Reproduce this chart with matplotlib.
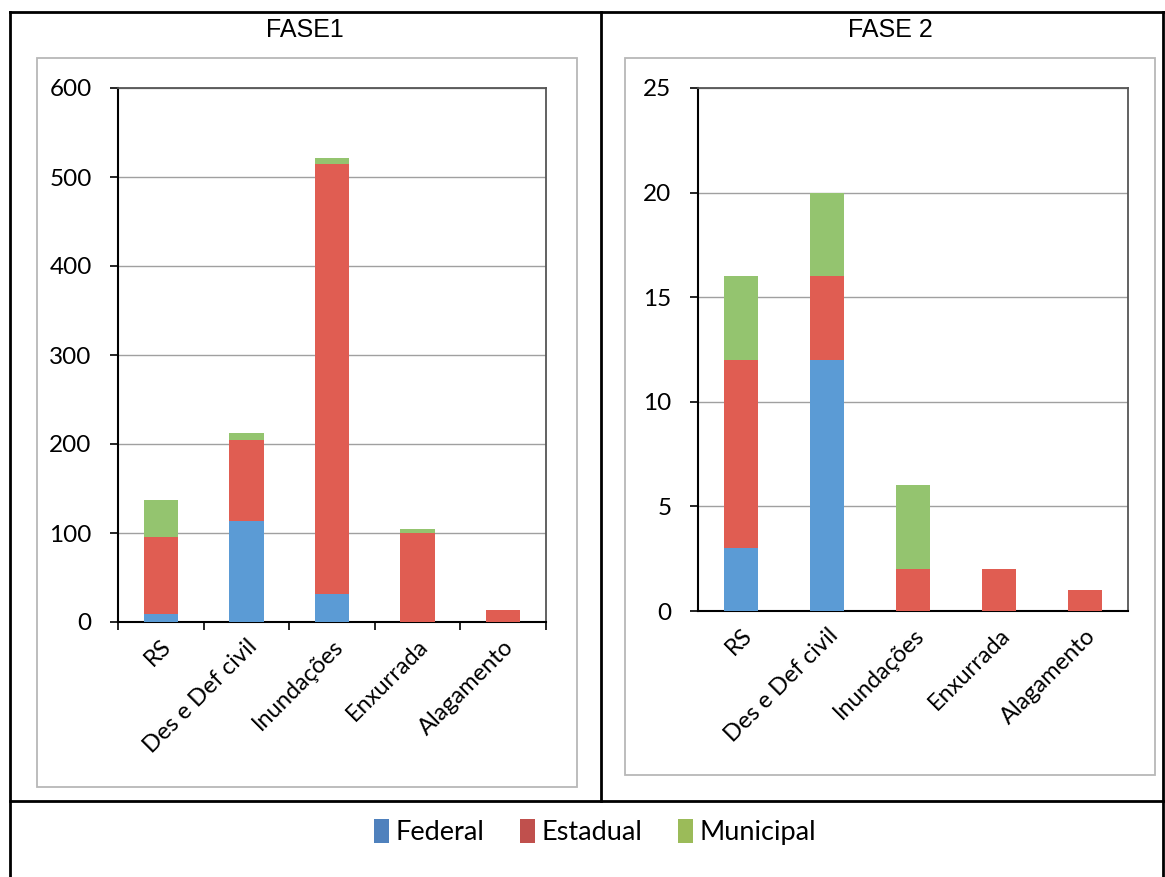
import numpy as np
import matplotlib.pyplot as plt
from matplotlib.patches import Rectangle, Patch
from matplotlib.lines import Line2D

categories = ['RS', 'Des e Def civil', 'Inundações', 'Enxurrada', 'Alagamento']
series = ['Federal', 'Estadual', 'Municipal']

# FASE1
f1_federal = [9, 113, 32, 0, 0]
f1_estadual = [86, 91, 483, 100, 13]
f1_municipal = [42, 8, 6, 4, 0]

# FASE 2
f2_federal = [3, 12, 0, 0, 0]
f2_estadual = [9, 4, 2, 2, 1]
f2_municipal = [4, 4, 4, 0, 0]

bar_colors = ['#5B9BD5', '#E05D52', '#94C46F']
legend_colors = ['#4F81BD', '#C0504D', '#9BBB59']

W, H = 1165, 877
fig = plt.figure(figsize=(W / 100, H / 100), dpi=100)
fig.patch.set_facecolor('white')


def fx(x):
    return x / W


def fy(y):
    return 1 - y / H


def box(x0, y0, x1, y1, color, lw):
    fig.add_artist(Rectangle((fx(x0), fy(y1)), fx(x1 - x0), (y1 - y0) / H,
                             transform=fig.transFigure, fill=False,
                             edgecolor=color, linewidth=lw))


def line(xs, ys, color='black', lw=2):
    fig.add_artist(Line2D([fx(x) for x in xs], [fy(y) for y in ys],
                          transform=fig.transFigure, color=color, linewidth=lw))


# table frame
line([10, 10], [12, 877])
line([10, 1165], [12, 12])
line([1163, 1163], [12, 877])
line([601, 601], [12, 801])
line([10, 1165], [801, 801])

# chart frames
box(37, 58, 577, 787, '#B8B8B8', 1.3)
box(625, 58, 1155, 775, '#B8B8B8', 1.3)

fig.text(fx(305), fy(30), 'FASE1', ha='center', va='center',
         fontsize=18, family='Liberation Sans')
fig.text(fx(890), fy(30), 'FASE 2', ha='center', va='center',
         fontsize=18, family='Liberation Sans')


def draw(ax, fed, est, mun, ymax, step, xticks):
    x = np.arange(len(categories))
    fed = np.array(fed)
    est = np.array(est)
    mun = np.array(mun)
    ax.bar(x, fed, 0.4, color=bar_colors[0], zorder=3)
    ax.bar(x, est, 0.4, bottom=fed, color=bar_colors[1], zorder=3)
    ax.bar(x, mun, 0.4, bottom=fed + est, color=bar_colors[2], zorder=3)
    ax.set_xlim(-0.5, len(categories) - 0.5)
    ax.set_ylim(0, ymax)
    ax.set_yticks(np.arange(0, ymax + 1, step))
    ax.yaxis.grid(True, color='#A0A0A0', linewidth=1)
    ax.set_axisbelow(True)
    ax.set_xticks(x)
    ax.set_xticklabels(categories, rotation=45, ha='right',
                       rotation_mode='anchor', fontsize=17, family='Lato')
    ax.tick_params(axis='x', length=0, pad=10)
    if xticks:
        ax.set_xticks(np.arange(-0.5, len(categories), 1), minor=True)
        ax.tick_params(axis='x', which='minor', length=6, width=1.2)
    ax.tick_params(axis='y', length=6, width=1.2, labelsize=17.5, pad=13)
    for lbl in ax.get_yticklabels():
        lbl.set_family('Lato')
    for s in ['left', 'bottom']:
        ax.spines[s].set_color('black')
        ax.spines[s].set_linewidth(1.5)
    for s in ['top', 'right']:
        ax.spines[s].set_color('#555555')
        ax.spines[s].set_linewidth(1.3)


ax1 = fig.add_axes([fx(118), fy(622), fx(546 - 118), (622 - 88) / H])
draw(ax1, f1_federal, f1_estadual, f1_municipal, 600, 100, True)

ax2 = fig.add_axes([fx(698), fy(611), fx(1128 - 698), (611 - 88) / H])
draw(ax2, f2_federal, f2_estadual, f2_municipal, 25, 5, False)

handles = [Patch(facecolor=c, edgecolor='none') for c in legend_colors]
fig.legend(handles, series, loc='center', bbox_to_anchor=(fx(595), fy(832)),
           ncol=3, frameon=False, prop={'family': 'Lato', 'size': 19.5},
           handlelength=0.55, handleheight=1.0, handletextpad=0.25,
           columnspacing=1.3)

fig.savefig('out.png', dpi=100)
